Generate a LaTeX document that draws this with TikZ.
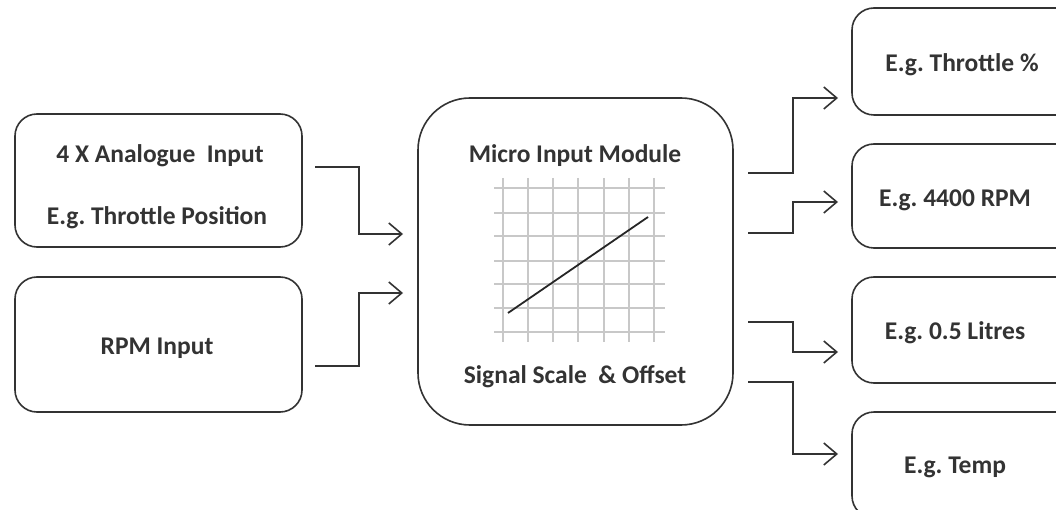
\documentclass[tikz,border=0pt]{standalone}
\usepackage{fontspec}
\setmainfont{Carlito}
\usetikzlibrary{arrows.meta,calc}
\definecolor{ink}{HTML}{333333}
\definecolor{gridgray}{HTML}{C8C8C8}
\frenchspacing
\tikzset{
  box/.style={draw=ink, line width=1.6pt, rounded corners=22pt, inner sep=0pt, fill=white},
  bigbox/.style={box, rounded corners=52pt},
  lbl/.style={text=ink, font=\fontsize{25.5}{30}\selectfont\bfseries, inner sep=0pt},
  arr/.style={draw=ink, line width=1.6pt, -{Straight Barb[length=13pt,width=22pt,line width=1.6pt]}},
  gridline/.style={draw=gridgray, line width=1.3pt},
}
\begin{document}
\begin{tikzpicture}[x=1pt,y=-1pt]
\useasboundingbox (0,0) rectangle (1056,510);
\clip (0,0) rectangle (1056,510);
\fill[white] (0,0) rectangle (1056,510);

% input boxes
\node[box, minimum width=287pt, minimum height=133pt] (in1) at (158.5,180.5) {};
\node[box, minimum width=287pt, minimum height=135pt] (in2) at (158.5,344.5) {};
\node[lbl] (in1a) at (160,156) {4 X Analogue~~Input};
\node[lbl] (in1b) at (157,218) {E.g. Throttle Position};
\node[lbl] (in2a) at (157,348) {RPM Input};

% central module
\node[bigbox, minimum width=315pt, minimum height=327pt] (mim) at (575.5,261.5) {};
\node[lbl] (mimt) at (575,156) {Micro Input Module};
\node[lbl] (mimb) at (575,377) {Signal Scale~~\&~Offset};

% scale and offset chart
\foreach \gx in {503,528,553,578,604,629,654}
  \draw[gridline] (\gx,178) -- (\gx,342);
\foreach \gy in {188,213,236,261,284,308,332}
  \draw[gridline] (494,\gy) -- (665,\gy);
\draw[draw=black!85, line width=1.8pt] (508,313) -- (648,217);

% output boxes
\node[box, minimum width=230pt, minimum height=107pt] (out1) at (967,61.5) {};
\node[box, minimum width=230pt, minimum height=104pt] (out2) at (967,196) {};
\node[box, minimum width=230pt, minimum height=106pt] (out3) at (967,330) {};
\node[box, minimum width=230pt, minimum height=106pt] (out4) at (967,465) {};
\node[lbl] (out1t) at (962,65) {E.g. Throttle \%};
\node[lbl] (out2t) at (955,200) {E.g. 4400 RPM};
\node[lbl] (out3t) at (955,333) {E.g. 0.5 Litres};
\node[lbl] (out4t) at (955,467) {E.g. Temp};

% connector ends
\coordinate (s1) at (315,167);  \coordinate (e1) at (403,234);
\coordinate (s2) at (315,366);  \coordinate (e2) at (403,293);
\coordinate (s3) at (748,173);  \coordinate (e3) at (838,98);
\coordinate (s4) at (748,233);  \coordinate (e4) at (838,202);
\coordinate (s5) at (748,322);  \coordinate (e5) at (838,352);
\coordinate (s6) at (748,382);  \coordinate (e6) at (838,454);

\foreach \a/\b in {s1/e1,s2/e2,s3/e3,s4/e4,s5/e5,s6/e6}
  \draw[arr] (\a) -| ($(\a)!.5!(\b)$) |- (\b);
\end{tikzpicture}
\end{document}
